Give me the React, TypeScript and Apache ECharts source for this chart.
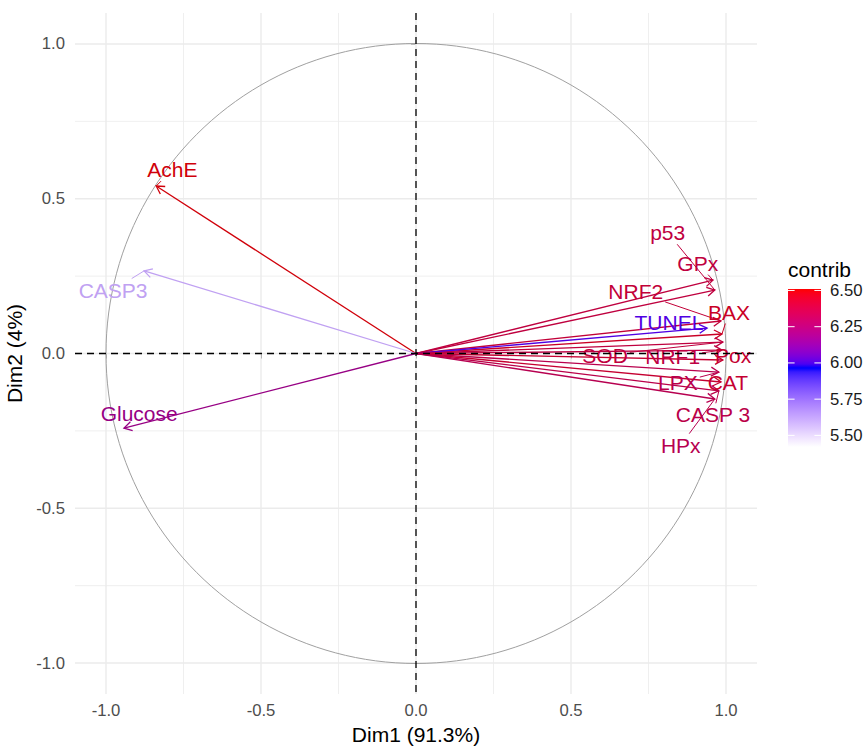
import React, { useEffect, useRef } from "react";
import * as echarts from "echarts";

// ---- data ----
const varNames = ["AchE", "CASP3", "Glucose", "p53", "GPx", "NRF2", "BAX", "TUNEL", "SOD", "NRF1", "Pox", "LPX", "CAT", "CASP 3", "HPx"];
const dim1 = [-0.838, -0.877, -0.942, 0.964, 0.958, 0.984, 0.987, 0.939, 0.99, 0.987, 0.99, 0.977, 0.984, 0.977, 0.964];
const dim2 = [0.541, 0.267, -0.241, 0.205, 0.237, 0.105, 0.063, 0.082, 0.037, 0.011, -0.021, -0.06, -0.092, -0.121, -0.147];
const contrib = [6.5, 5.62, 6.18, 6.38, 6.38, 6.4, 6.45, 6.0, 6.38, 6.37, 6.42, 6.34, 6.42, 6.35, 6.33];
// repelled label positions (data units)
const labelX = [-0.786, -0.977, -0.893, 0.812, 0.909, 0.709, 1.01, 0.816, 0.61, 0.828, 1.023, 0.845, 1.006, 0.958, 0.854];
const labelY = [0.594, 0.205, -0.195, 0.39, 0.292, 0.199, 0.134, 0.099, -0.005, -0.011, -0.005, -0.095, -0.095, -0.198, -0.296];

const majorBreaks = [-1, -0.5, 0, 0.5, 1];
const minorBreaks = [-0.75, -0.25, 0.25, 0.75];
const axisMin = -1.1;
const axisMax = 1.1;
const xTitle = "Dim1 (91.3%)";
const yTitle = "Dim2 (4%)";

const legendTitle = "contrib";
const legendBreaks = [6.5, 6.25, 6.0, 5.75, 5.5];
const contribMin = 5.42;
const contribMax = 6.51;
const gradientCols = ["#FFFFFF", "#0000FF", "#FF0000"];

// ---- colour helpers (Lab interpolation like ggplot) ----
const FONT = '"Liberation Sans", Arial, sans-serif';
function hexToRgb(h: string) {
  return [parseInt(h.slice(1, 3), 16), parseInt(h.slice(3, 5), 16), parseInt(h.slice(5, 7), 16)];
}
function s2l(c: number) {
  c /= 255;
  return c <= 0.04045 ? c / 12.92 : Math.pow((c + 0.055) / 1.055, 2.4);
}
function l2s(c: number) {
  const v = c <= 0.0031308 ? 12.92 * c : 1.055 * Math.pow(c, 1 / 2.4) - 0.055;
  return Math.max(0, Math.min(1, v)) * 255;
}
function rgbToLab(rgb: number[]) {
  const R = s2l(rgb[0]), G = s2l(rgb[1]), B = s2l(rgb[2]);
  const X = (0.4124564 * R + 0.3575761 * G + 0.1804375 * B) / 0.95047;
  const Y = 0.2126729 * R + 0.7151522 * G + 0.072175 * B;
  const Z = (0.0193339 * R + 0.119192 * G + 0.9503041 * B) / 1.08883;
  const f = (t: number) => (t > 0.008856 ? Math.cbrt(t) : 7.787 * t + 16 / 116);
  const fx = f(X), fy = f(Y), fz = f(Z);
  return [116 * fy - 16, 500 * (fx - fy), 200 * (fy - fz)];
}
function labToRgb(lab: number[]) {
  const fy = (lab[0] + 16) / 116, fx = fy + lab[1] / 500, fz = fy - lab[2] / 200;
  const fi = (t: number) => (t * t * t > 0.008856 ? t * t * t : (t - 16 / 116) / 7.787);
  const X = fi(fx) * 0.95047, Y = fi(fy), Z = fi(fz) * 1.08883;
  const R = 3.2404542 * X - 1.5371385 * Y - 0.4985314 * Z;
  const G = -0.969266 * X + 1.8760108 * Y + 0.041556 * Z;
  const B = 0.0556434 * X - 0.2040259 * Y + 1.0572252 * Z;
  return [l2s(R), l2s(G), l2s(B)];
}
function rgbHex(rgb: number[], k = 1) {
  const h = (n: number) => Math.round(Math.max(0, Math.min(255, n * k))).toString(16).padStart(2, "0");
  return "#" + h(rgb[0]) + h(rgb[1]) + h(rgb[2]);
}
const labs = gradientCols.map((c) => rgbToLab(hexToRgb(c)));
function rgbAt(t: number) {
  t = Math.max(0, Math.min(1, t));
  const seg = t <= 0.5 ? 0 : 1;
  const u = seg === 0 ? t / 0.5 : (t - 0.5) / 0.5;
  const a = labs[seg], b = labs[seg + 1];
  return labToRgb([a[0] + (b[0] - a[0]) * u, a[1] + (b[1] - a[1]) * u, a[2] + (b[2] - a[2]) * u]);
}
function colorAt(t: number) {
  return rgbHex(rgbAt(t));
}
// marks appear a little darker in the reference rendering
function contribColor(v: number) {
  const t = (v - contribMin) / (contribMax - contribMin);
  const k = t > 0.55 ? 0.82 : 0.95;
  return rgbHex(rgbAt(t), k);
}

let measureCtx: CanvasRenderingContext2D | null = null;
function textWidth(s: string, size: number) {
  if (!measureCtx) measureCtx = document.createElement("canvas").getContext("2d");
  if (!measureCtx) return s.length * size * 0.55;
  measureCtx.font = `${size}px ${FONT}`;
  return measureCtx.measureText(s).width;
}

const LABEL_SIZE = 21;

export default function App() {
  const ref = useRef<HTMLDivElement>(null);
  useEffect(() => {
    document.body.style.margin = "0";
    if (!ref.current) return;
    const chart = echarts.init(ref.current, null, { renderer: "svg" });

    const gridRows = [...majorBreaks.map((v) => [v, 0, 1]), ...minorBreaks.map((v) => [v, 0, 0])];
    const arrowRows = varNames.map((_, i) => [dim1[i], dim2[i], i]);
    const labelRows = varNames.map((_, i) => [labelX[i], labelY[i], i]);

    // legend geometry
    const barX = 788, barY = 289, barW = 33, barH = 158;
    const vy = (v: number) => barY + ((contribMax - v) / (contribMax - contribMin)) * barH;
    const stops: any[] = [];
    for (let k = 0; k <= 40; k++) {
      const off = k / 40;
      stops.push({ offset: off, color: colorAt(1 - off) });
    }
    const legendEls: any[] = [
      {
        type: "text",
        x: barX,
        y: 269,
        style: { text: legendTitle, fill: "#000", font: `21px ${FONT}`, textAlign: "left", textVerticalAlign: "middle" },
      },
      {
        type: "rect",
        shape: { x: barX, y: barY, width: barW, height: barH },
        style: { fill: new echarts.graphic.LinearGradient(0, 0, 0, 1, stops) },
      },
    ];
    legendBreaks.forEach((b) => {
      const y = vy(b);
      legendEls.push({
        type: "line",
        shape: { x1: barX, y1: y, x2: barX + barW / 5, y2: y },
        style: { stroke: "#fff", lineWidth: 1 },
      });
      legendEls.push({
        type: "line",
        shape: { x1: barX + barW - barW / 5, y1: y, x2: barX + barW, y2: y },
        style: { stroke: "#fff", lineWidth: 1 },
      });
      legendEls.push({
        type: "text",
        x: barX + barW + 9,
        y,
        style: { text: b.toFixed(2), fill: "#1a1a1a", font: `16.7px ${FONT}`, textAlign: "left", textVerticalAlign: "middle" },
      });
    });

    const axisCommon = {
      type: "value",
      min: axisMin,
      max: axisMax,
      axisLine: { show: false },
      splitLine: { show: false },
      axisTick: { show: true, customValues: majorBreaks, length: 5, lineStyle: { color: "#333", width: 1 } },
      axisLabel: {
        customValues: majorBreaks,
        formatter: (v: number) => v.toFixed(1),
        color: "#4d4d4d",
        fontSize: 16.7,
        fontFamily: FONT,
      },
      nameLocation: "middle",
      nameTextStyle: { fontSize: 21, color: "#000", fontFamily: FONT },
    };

    chart.setOption({
      animation: false,
      backgroundColor: "#fff",
      grid: { left: 75, top: 13, width: 682, height: 681, containLabel: false, outerBoundsMode: "none" },
      xAxis: { ...axisCommon, name: xTitle, nameGap: 29, axisLabel: { ...axisCommon.axisLabel, margin: 8 } },
      yAxis: { ...axisCommon, name: yTitle, nameGap: 42, axisLabel: { ...axisCommon.axisLabel, margin: 10 } },
      graphic: { elements: legendEls },
      series: [
        {
          type: "custom",
          z: 1,
          silent: true,
          data: gridRows,
          renderItem: (params: any, api: any) => {
            const cs = params.coordSys;
            const v = api.value(0);
            const major = api.value(2) === 1;
            const px = api.coord([v, 0])[0];
            const py = api.coord([0, v])[1];
            const st = { stroke: "#ebebeb", lineWidth: major ? 1.4 : 0.8 };
            return {
              type: "group",
              children: [
                { type: "line", shape: { x1: px, y1: cs.y, x2: px, y2: cs.y + cs.height }, style: st },
                { type: "line", shape: { x1: cs.x, y1: py, x2: cs.x + cs.width, y2: py }, style: st },
              ],
            };
          },
        },
        {
          type: "custom",
          z: 2,
          silent: true,
          data: [[0, 0, 1]],
          renderItem: (params: any, api: any) => {
            const c = api.coord([0, 0]);
            const r = api.size([1, 0])[0];
            return {
              type: "circle",
              shape: { cx: c[0], cy: c[1], r },
              style: { stroke: "#a0a0a0", fill: null, lineWidth: 1 },
            };
          },
        },
        {
          type: "custom",
          z: 3,
          silent: true,
          data: arrowRows,
          renderItem: (params: any, api: any) => {
            const i = api.value(2);
            const col = contribColor(contrib[i]);
            const o = api.coord([0, 0]);
            const p = api.coord([api.value(0), api.value(1)]);
            const ang = Math.atan2(p[1] - o[1], p[0] - o[0]);
            const L = 9, a = Math.PI / 6;
            const h1 = [p[0] - L * Math.cos(ang - a), p[1] - L * Math.sin(ang - a)];
            const h2 = [p[0] - L * Math.cos(ang + a), p[1] - L * Math.sin(ang + a)];
            return {
              type: "group",
              children: [
                { type: "line", shape: { x1: o[0], y1: o[1], x2: p[0], y2: p[1] }, style: { stroke: col, lineWidth: 1.3 } },
                { type: "polyline", shape: { points: [h1, p, h2] }, style: { stroke: col, fill: null, lineWidth: 1.3 } },
              ],
            };
          },
        },
        {
          type: "custom",
          z: 4,
          silent: true,
          data: labelRows,
          renderItem: (params: any, api: any) => {
            const i = api.value(2);
            const col = contribColor(contrib[i]);
            const c = api.coord([api.value(0), api.value(1)]);
            const t = api.coord([dim1[i], dim2[i]]);
            const children: any[] = [];
            const hw = textWidth(varNames[i], LABEL_SIZE) / 2 + 2;
            const hh = LABEL_SIZE / 2 + 1;
            const dx = t[0] - c[0], dy = t[1] - c[1];
            const sx = dx !== 0 ? hw / Math.abs(dx) : Infinity;
            const sy = dy !== 0 ? hh / Math.abs(dy) : Infinity;
            const s = Math.min(sx, sy);
            const len = Math.sqrt(dx * dx + dy * dy);
            if (s < 1 && (1 - s) * len > 6) {
              children.push({
                type: "line",
                shape: { x1: c[0] + dx * s, y1: c[1] + dy * s, x2: t[0], y2: t[1] },
                style: { stroke: col, lineWidth: 1 },
              });
            }
            children.push({
              type: "text",
              style: {
                text: varNames[i],
                x: c[0],
                y: c[1],
                fill: col,
                font: `${LABEL_SIZE}px ${FONT}`,
                align: "center",
                verticalAlign: "middle",
                textAlign: "center",
                textVerticalAlign: "middle",
              },
            });
            return { type: "group", children };
          },
        },
        {
          type: "custom",
          z: 5,
          silent: true,
          data: [[0, 0]],
          renderItem: (params: any, api: any) => {
            const cs = params.coordSys;
            const o = api.coord([0, 0]);
            const st = { stroke: "#000", lineWidth: 1.3, lineDash: [7, 5] };
            return {
              type: "group",
              children: [
                { type: "line", shape: { x1: o[0], y1: cs.y, x2: o[0], y2: cs.y + cs.height }, style: st },
                { type: "line", shape: { x1: cs.x, y1: o[1], x2: cs.x + cs.width, y2: o[1] }, style: st },
              ],
            };
          },
        },
      ],
    });
    return () => chart.dispose();
  }, []);
  return <div ref={ref} style={{ width: 865, height: 747 }} />;
}
